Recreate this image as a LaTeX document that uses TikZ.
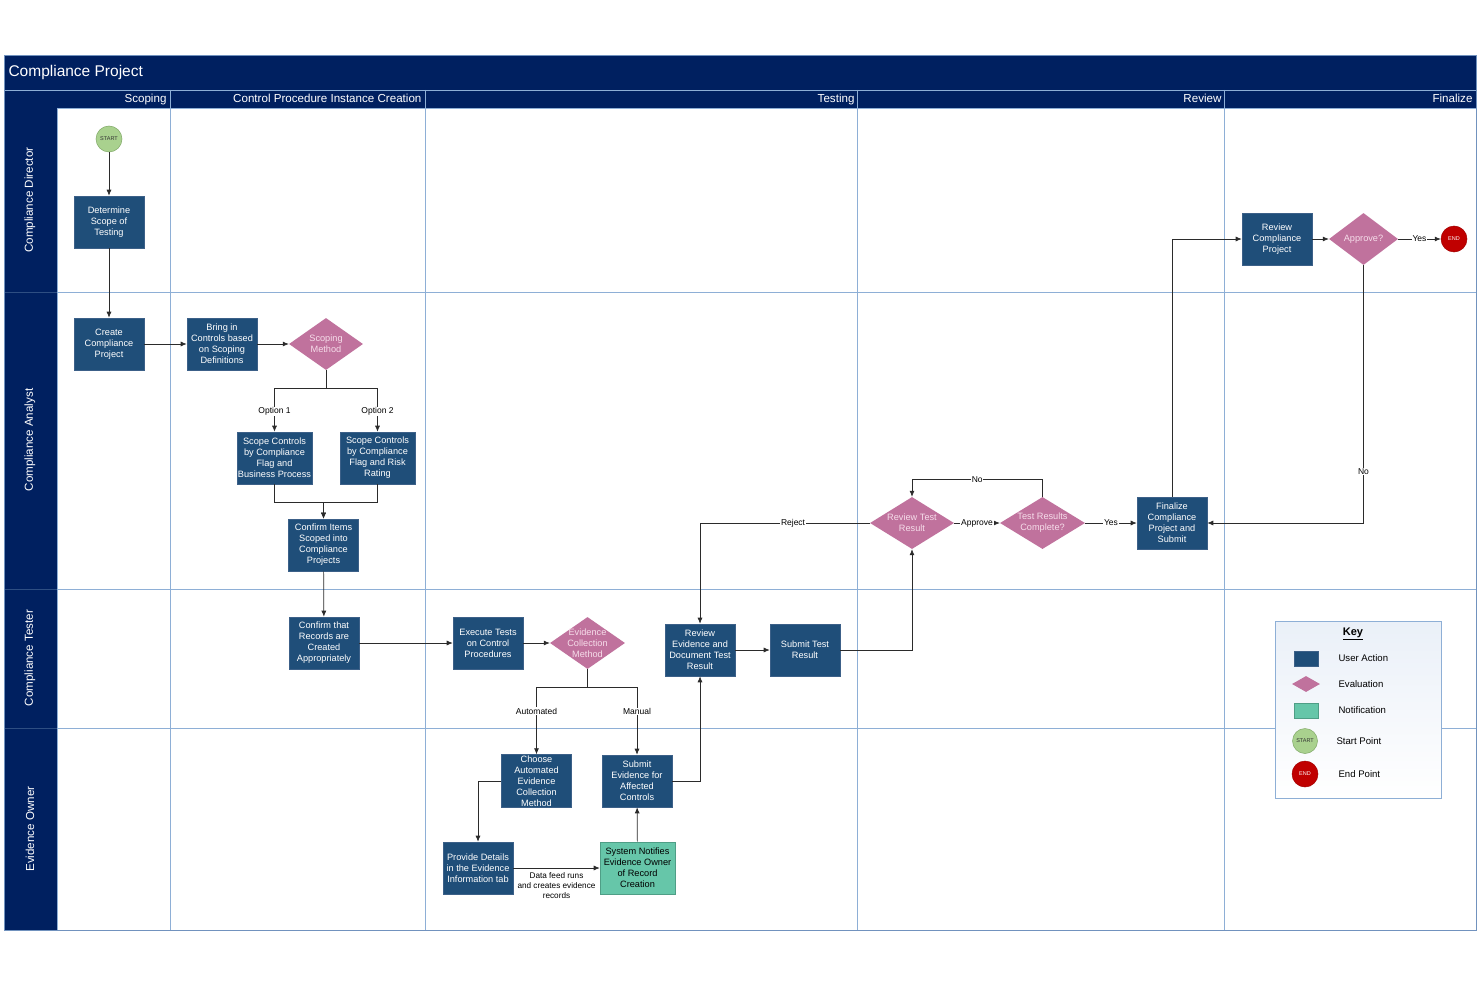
\documentclass[tikz,border=0pt]{standalone}
\usepackage{fontspec}
\setmainfont{Liberation Sans}
\usetikzlibrary{shapes.geometric,arrows.meta}
\definecolor{navy}{HTML}{002060}
\definecolor{boxblue}{HTML}{1F4E79}
\definecolor{boxedge}{HTML}{3C6088}
\definecolor{pinkd}{HTML}{C0729D}
\definecolor{pinktext}{HTML}{F6DDEA}
\definecolor{notif}{HTML}{66C6A9}
\definecolor{notifedge}{HTML}{4F9E86}
\definecolor{gridc}{HTML}{8EAFD6}
\definecolor{colsep}{HTML}{2E4E82}
\definecolor{startg}{HTML}{A9D18E}
\definecolor{startedge}{HTML}{7FA866}
\definecolor{endr}{HTML}{C00000}
\definecolor{lineg}{HTML}{2B2B2B}
\definecolor{keytop}{HTML}{EAF0F8}
\tikzset{
  act/.style={rectangle, fill=boxblue, draw=boxedge, line width=0.6pt, minimum width=70pt, minimum height=52pt, text=white, align=center, font=\fontsize{9.2}{11}\selectfont, inner sep=1pt},
  dia/.style={diamond, fill=pinkd, draw=none, minimum width=74pt, minimum height=52pt, inner sep=0pt},
  dtext/.style={text=pinktext, align=center, font=\fontsize{9.2}{11}\selectfont},
  conn/.style={draw=lineg, line width=0.7pt, -{Latex[length=6pt,width=5pt]}},
  elab/.style={fill=white, inner sep=0.8pt, font=\fontsize{8.5}{10}\selectfont, text=black},
  lanelab/.style={rotate=90, text=white, font=\fontsize{11.6}{14}\selectfont},
  phaselab/.style={anchor=base east, text=white, font=\fontsize{11.6}{14}\selectfont},
  keytxt/.style={anchor=west, font=\fontsize{9.6}{11}\selectfont, text=black}
}
\begin{document}
\begin{tikzpicture}[x=1pt,y=-1pt]
\useasboundingbox (0,0) rectangle (1480,987);
\fill[white] (0,0) rectangle (1480,987);
% title bar and header row
\fill[navy] (4,55) rectangle (1476,108);
\node[anchor=west, text=white, font=\fontsize{15.5}{18}\selectfont] (title) at (5,72) {Compliance Project};
\draw[gridc, line width=0.6pt] (4,90) -- (1476,90);
\node[phaselab] (ph1) at (170,103) {Scoping};
\node[phaselab] (ph2) at (425,103) {Control Procedure Instance Creation};
\node[phaselab] (ph3) at (858,103) {Testing};
\node[phaselab] (ph4) at (1225,103) {Review};
\node[phaselab] (ph5) at (1476,103) {Finalize};
% lane header column
\fill[navy] (4,108) rectangle (57,930);
\foreach \y in {292,589,728} \draw[colsep, line width=0.6pt] (4,\y) -- (57,\y);
\node[lanelab] (l1) at (30,200) {Compliance Director};
\node[lanelab] (l2) at (30,440) {Compliance Analyst};
\node[lanelab] (l3) at (30,658) {Compliance Tester};
\node[lanelab] (l4) at (30,829) {Evidence Owner};
% grid
\foreach \y in {108,292,589,728} \draw[gridc, line width=0.6pt] (57,\y) -- (1476,\y);
\foreach \x in {170,425,857,1224} \draw[gridc, line width=0.6pt] (\x,90) -- (\x,930);
\draw[gridc, line width=0.6pt] (57,108) -- (57,930);
\draw[gridc!80!navy, line width=0.7pt] (4,55) rectangle (1476,930);

% nodes
\node[circle, fill=startg, draw=startedge, line width=0.5pt, minimum size=26pt, inner sep=0pt, font=\fontsize{5.5}{6}\selectfont, text=black!80] (start) at (109,139) {START};
\node[act] (det) at (109,222) {Determine\\Scope of\\Testing};
\node[act] (create) at (109,344) {Create\\Compliance\\Project};
\node[act] (bring) at (222,344) {Bring in\\Controls based\\on Scoping\\Definitions};
\node[dia] (sm) at (326,344) {};
\node[dtext] (smt) at (326,344) {Scoping\\Method};
\node[act, minimum width=75pt] (s1) at (274.5,458) {Scope Controls\\by Compliance\\Flag and\\Business Process};
\node[act, minimum width=75pt] (s2) at (377.5,458) {Scope Controls\\by Compliance\\Flag and Risk\\Rating};
\node[act] (ci) at (323.5,545) {Confirm Items\\Scoped into\\Compliance\\Projects};
\node[act] (cr) at (324,643) {Confirm that\\Records are\\Created\\Appropriately};
\node[act] (ex) at (488,643) {Execute Tests\\on Control\\Procedures};
\node[dia, minimum width=75pt] (ecm) at (587.5,643) {};
\node[dtext] (ecmt) at (587.5,643) {Evidence\\Collection\\Method};
\node[act] (re) at (700,650) {Review\\Evidence and\\Document Test\\Result};
\node[act] (st) at (805,650) {Submit Test\\Result};
\node[act] (ch) at (536.5,781) {Choose\\Automated\\Evidence\\Collection\\Method};
\node[act] (se) at (637,781) {Submit\\Evidence for\\Affected\\Controls};
\node[act] (pd) at (478,868) {Provide Details\\in the Evidence\\Information tab};
\node[act, fill=notif, draw=notifedge, text=black, minimum width=75pt] (sn) at (637.5,868) {System Notifies\\Evidence Owner\\of Record\\Creation};
\node[dia, minimum width=84pt] (rtr) at (912,523) {};
\node[dtext] (rtrt) at (912,523) {Review Test\\Result};
\node[dia, minimum width=85pt] (trc) at (1042.5,523) {};
\node[dtext] (trct) at (1042.5,523) {Test Results\\Complete?};
\node[act] (fin) at (1172,523) {Finalize\\Compliance\\Project and\\Submit};
\node[act] (rcp) at (1277,239) {Review\\Compliance\\Project};
\node[dia, minimum width=69pt] (app) at (1363.5,239) {};
\node[dtext] (appt) at (1363.5,239) {Approve?};
\node[circle, fill=endr, draw=endr!85!black, line width=0.5pt, minimum size=26pt, inner sep=0pt, font=\fontsize{5.5}{6}\selectfont, text=white] (endn) at (1454,239) {END};

% connectors
\draw[conn] (start) -- (det);
\draw[conn] (det) -- (create);
\draw[conn] (create) -- (bring);
\draw[conn] (bring) -- (sm);
\draw[conn] (sm.south) -- ++(0,18) -| node[elab, pos=0.77]{Option 1} (s1.north);
\draw[conn] (sm.south) -- ++(0,18) -| node[elab, pos=0.77]{Option 2} (s2.north);
\draw[conn] (s1.south) -- ++(0,18) -| (ci.north);
\draw[conn] (s2.south) -- ++(0,18) -| (ci.north);
\draw[conn] (ci) -- (cr);
\draw[conn] (cr) -- (ex);
\draw[conn] (ex) -- (ecm);
\draw[conn] (ecm.south) -- ++(0,18) -| node[elab, pos=0.68]{Automated} (ch.north);
\draw[conn] (ecm.south) -- ++(0,18) -| node[elab, pos=0.68]{Manual} (se.north);
\draw[conn] (ch.west) -| (pd.north);
\draw[conn] (pd) -- node[midway, below, yshift=-3pt, align=center, inner sep=1.5pt, font=\fontsize{8.2}{10}\selectfont]{Data feed runs\\and creates evidence\\records} (sn);
\draw[conn] (sn) -- (se);
\draw[conn] (se.east) -| (re.south);
\draw[conn] (re) -- (st);
\draw[conn] (st.east) -| (rtr.south);
\draw[conn] (rtr.west) -| node[elab, pos=0.226]{Reject} (re.north);
\draw[conn] (rtr) -- node[elab]{Approve} (trc);
\draw[conn] (trc.north) -- ++(0,-17) -| node[elab, pos=0.25]{No} (rtr.north);
\draw[conn] (trc) -- node[elab]{Yes} (fin);
\draw[conn] (fin.north) |- (rcp.west);
\draw[conn] (rcp) -- (app);
\draw[conn] (app) -- node[elab]{Yes} (endn);
\draw[conn] (app.south) |- node[elab, pos=0.4]{No} (fin.east);

% key
\node[rectangle, top color=keytop, bottom color=white, draw=gridc, line width=0.8pt, minimum width=166pt, minimum height=177pt] (key) at (1358,709.5) {};
\node[font=\bfseries\fontsize{11}{13}\selectfont] (keyt) at (1353,634) {\underline{Key}};
\node[rectangle, fill=boxblue, draw=boxedge, line width=0.5pt, minimum width=24pt, minimum height=15pt, inner sep=0pt] (k1) at (1306,659) {};
\node[keytxt] (k1t) at (1335,658) {User Action};
\node[diamond, fill=pinkd, minimum width=28pt, minimum height=16pt, inner sep=0pt] (k2) at (1306,684) {};
\node[keytxt] (k2t) at (1335,684) {Evaluation};
\node[rectangle, fill=notif, draw=notifedge, line width=0.5pt, minimum width=24pt, minimum height=15pt, inner sep=0pt] (k3) at (1306,711) {};
\node[keytxt] (k3t) at (1335,710) {Notification};
\node[circle, fill=startg, draw=startedge, line width=0.5pt, minimum size=25pt, inner sep=0pt, font=\fontsize{5.5}{6}\selectfont, text=black!80] (k4) at (1305,741) {START};
\node[keytxt] (k4t) at (1333,741) {Start Point};
\node[circle, fill=endr, draw=endr!85!black, line width=0.5pt, minimum size=26pt, inner sep=0pt, font=\fontsize{5.5}{6}\selectfont, text=white] (k5) at (1305,774) {END};
\node[keytxt] (k5t) at (1335,774) {End Point};
\end{tikzpicture}
\end{document}
